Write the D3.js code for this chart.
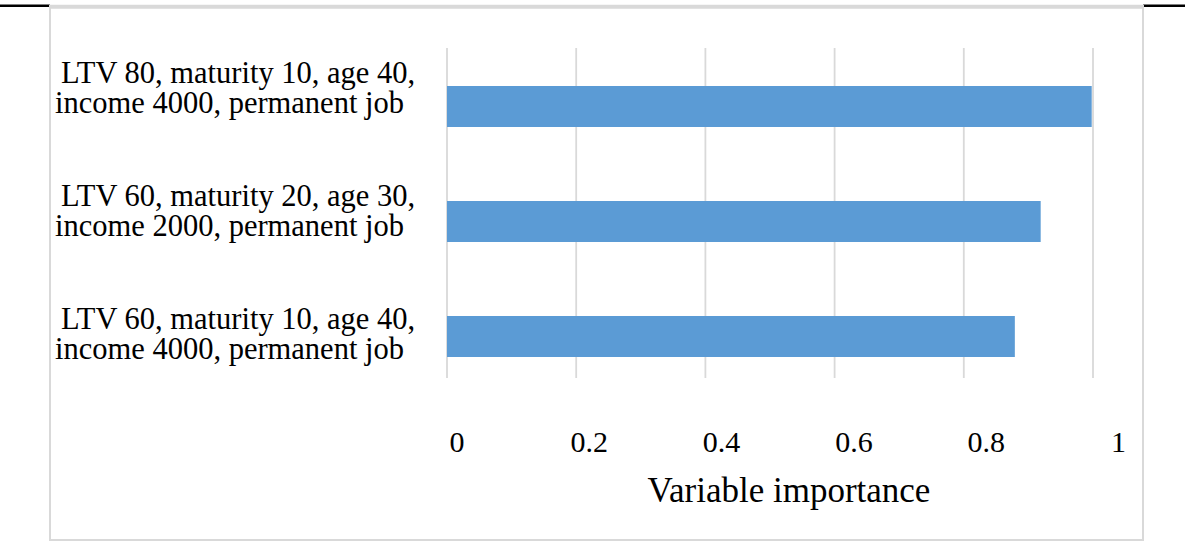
<!DOCTYPE html>
<html>
<head>
<meta charset="utf-8">
<script src="https://cdn.jsdelivr.net/npm/d3@7"></script>
<style>
  html, body { margin: 0; padding: 0; background: #ffffff; }
  svg { display: block; }
  text { font-family: "Liberation Serif", "Times New Roman", serif; fill: #000000; }
</style>
</head>
<body>
<svg id="chart" width="1185" height="556"></svg>
<script>
// Scenario categories, top to bottom, each split into two label lines
const categories = [
  "LTV 80, maturity 10, age 40, income 4000, permanent job",
  "LTV 60, maturity 20, age 30, income 2000, permanent job",
  "LTV 60, maturity 10, age 40, income 4000, permanent job"
];
const labelLines = [
  ["LTV 80, maturity 10, age 40,", "income 4000, permanent job"],
  ["LTV 60, maturity 20, age 30,", "income 2000, permanent job"],
  ["LTV 60, maturity 10, age 40,", "income 4000, permanent job"]
];
// Variable importance per scenario
const importance = [0.998, 0.919, 0.879];
// Axis ticks
const tickValues = [0, 0.2, 0.4, 0.6, 0.8, 1];
const tickLabels = ["0", "0.2", "0.4", "0.6", "0.8", "1"];
const axisTitle = "Variable importance";

const svg = d3.select("#chart");
const W = 1185, H = 556;

const grey = "#d9d9d9";
const barColor = "#5b9bd5";

// Scales
const x = d3.scaleLinear().domain([0, 1]).range([447, 1093]);
const xText = d3.scaleLinear().domain([0, 1]).range([456.5, 1118]);
const y = d3.scaleBand().domain(categories).range([49, 394])
  .paddingInner(0.6435).paddingOuter(0.32175);
const yText = d3.scalePoint().domain(categories).range([35.4, 405.1]).padding(0.5);

// Page rule lines outside the chart frame
svg.append("line").attr("x1", 0).attr("x2", 50).attr("y1", 5.8).attr("y2", 5.8)
  .attr("stroke", "#000").attr("stroke-width", 2.4);
svg.append("line").attr("x1", 1143).attr("x2", W).attr("y1", 5.8).attr("y2", 5.8)
  .attr("stroke", "#000").attr("stroke-width", 2.4);

// Chart frame
svg.append("rect").attr("x", 50).attr("y", 7).attr("width", 1093).attr("height", 533)
  .attr("fill", "none").attr("stroke", grey).attr("stroke-width", 2);
svg.append("line").attr("x1", 49).attr("x2", 1144).attr("y1", 6.7).attr("y2", 6.7)
  .attr("stroke", grey).attr("stroke-width", 4);

// Vertical gridlines
svg.append("g").selectAll("line").data(tickValues).join("line")
  .attr("x1", d => x(d)).attr("x2", d => x(d))
  .attr("y1", 48).attr("y2", 378)
  .attr("stroke", grey).attr("stroke-width", 1.8);

// Bars
svg.append("g").selectAll("rect").data(categories).join("rect")
  .attr("x", x(0))
  .attr("y", d => y(d))
  .attr("width", (d, i) => x(importance[i]) - x(0))
  .attr("height", y.bandwidth())
  .attr("fill", barColor);

// Category labels (two lines each)
const lab = svg.append("g").selectAll("text").data(categories).join("text")
  .attr("font-size", 30.5);
lab.append("tspan")
  .attr("x", 61).attr("y", d => yText(d) - 14)
  .text((d, i) => labelLines[i][0]);
lab.append("tspan")
  .attr("x", 55).attr("y", d => yText(d) + 16)
  .text((d, i) => labelLines[i][1]);

// Value axis labels
const axis = d3.axisBottom(xText)
  .tickValues(tickValues)
  .tickFormat((d, i) => tickLabels[i])
  .tickSize(0).tickSizeOuter(0).tickPadding(0);
const gAxis = svg.append("g").attr("transform", "translate(0,430)").call(axis);
gAxis.select(".domain").remove();
gAxis.selectAll("text")
  .attr("font-family", "'Liberation Serif', 'Times New Roman', serif")
  .attr("font-size", 30)
  .attr("fill", "#000")
  .attr("dy", null)
  .attr("y", 22);

// Axis title
svg.append("text")
  .attr("x", 789).attr("y", 502)
  .attr("text-anchor", "middle")
  .attr("font-size", 35)
  .text(axisTitle);
</script>
</body>
</html>
